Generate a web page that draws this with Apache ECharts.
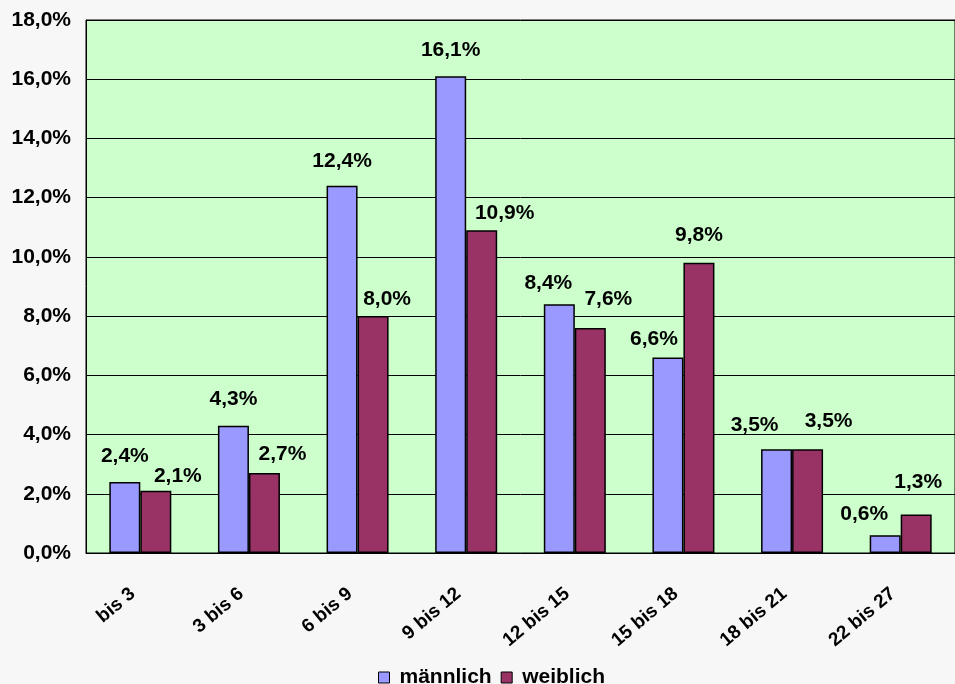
<!DOCTYPE html>
<html>
<head>
<meta charset="utf-8">
<script src="https://cdn.jsdelivr.net/npm/echarts@6/dist/echarts.min.js"></script>
<style>
  html, body { margin: 0; padding: 0; background: #f7f7f7; }
  #chart { width: 955px; height: 684px; }
</style>
</head>
<body>
<div id="chart"></div>
<script>
const categories = ["bis 3", "3 bis 6", "6 bis 9", "9 bis 12", "12 bis 15", "15 bis 18", "18 bis 21", "22 bis 27"];
const maleValues = [2.4, 4.3, 12.4, 16.1, 8.4, 6.6, 3.5, 0.6];
const femaleValues = [2.1, 2.7, 8.0, 10.9, 7.6, 9.8, 3.5, 1.3];
const seriesNames = ["männlich", "weiblich"];

// label nudges (Excel moves labels sideways so they don't collide)
const maleLabelShift = [[0, -15], [0, -16], [0, -14], [0, -16], [-11, -11], [-14, -8], [-22, -14], [-21, -11]];
const femaleLabelShift = [[22, -4], [18, -8], [14, -6], [23, -7], [18, -18], [0, -17], [21, -18], [2, -22]];

const fmt = (v) => v.toFixed(1).replace(".", ",") + "%";
const FONT = "Arial, 'Liberation Sans', sans-serif";

const chart = echarts.init(document.getElementById("chart"));

const makeData = (values, shifts) =>
  values.map((v, i) => ({ value: v, label: { offset: shifts[i] } }));

const labelStyle = {
  show: true,
  position: "top",
  distance: 0,
  color: "#000",
  fontFamily: FONT,
  fontWeight: "bold",
  fontSize: 21,
  formatter: (p) => fmt(p.value),
};

chart.setOption({
  backgroundColor: "#f7f7f7",
  animation: false,
  grid: {
    left: 86,
    top: 20,
    width: 880,
    height: 533,
    show: true,
    backgroundColor: "#ccffcc",
    borderColor: "#000",
    borderWidth: 1,
  },
  legend: {
    data: seriesNames,
    left: 373,
    top: 662,
    itemWidth: 11,
    itemHeight: 11,
    itemGap: 9,
    icon: "rect",
    itemStyle: { borderColor: "#000", borderWidth: 1 },
    textStyle: {
      color: "#000",
      fontFamily: FONT,
      fontWeight: "bold",
      fontSize: 21,
      padding: [0, 0, 0, 5],
    },
  },
  xAxis: {
    type: "category",
    data: categories,
    axisLine: { lineStyle: { color: "#000", width: 1 } },
    axisTick: { show: false },
    axisLabel: {
      rotate: 40,
      margin: 32,
      padding: [0, 10, 0, 0],
      color: "#000",
      fontFamily: FONT,
      fontWeight: "bold",
      fontSize: 19,
    },
  },
  yAxis: {
    type: "value",
    min: 0,
    max: 18,
    interval: 2,
    axisLine: { show: true, lineStyle: { color: "#000" } },
    axisTick: { show: false },
    splitLine: { lineStyle: { color: "#000", width: 1 } },
    axisLabel: {
      margin: 15,
      color: "#000",
      fontFamily: FONT,
      fontWeight: "bold",
      fontSize: 21,
      formatter: (v) => fmt(v),
    },
  },
  series: [
    {
      name: seriesNames[0],
      type: "bar",
      data: makeData(maleValues, maleLabelShift),
      barWidth: 31,
      barGap: "0%",
      itemStyle: { color: "#9999ff", borderColor: "#000", borderWidth: 1.5 },
      label: labelStyle,
    },
    {
      name: seriesNames[1],
      type: "bar",
      data: makeData(femaleValues, femaleLabelShift),
      barWidth: 31,
      itemStyle: { color: "#993366", borderColor: "#000", borderWidth: 1.5 },
      label: labelStyle,
    },
  ],
});
</script>
</body>
</html>
